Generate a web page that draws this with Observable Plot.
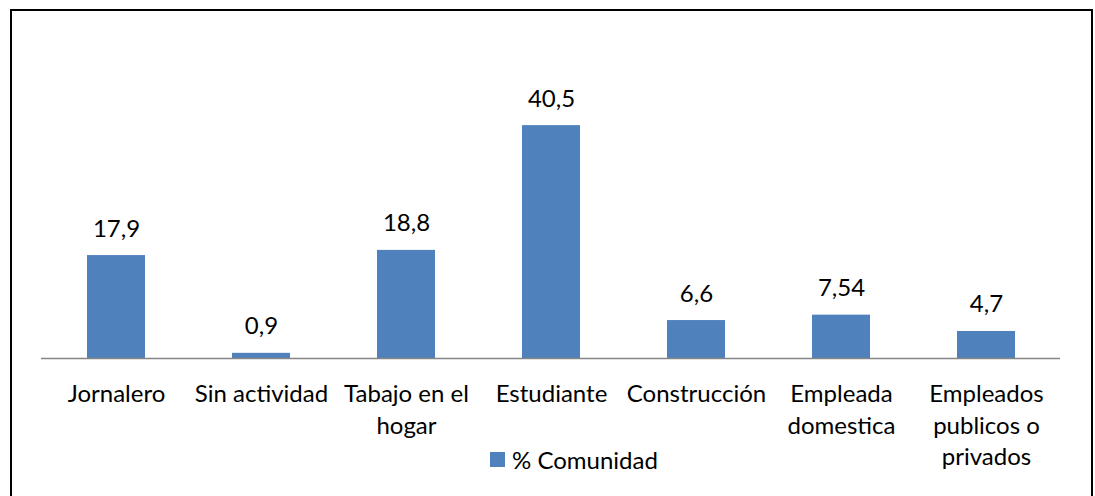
<!DOCTYPE html>
<html>
<head>
<meta charset="utf-8">
<script src="https://cdn.jsdelivr.net/npm/d3@7"></script>
<script src="https://cdn.jsdelivr.net/npm/@observablehq/plot@0.6"></script>
<style>
  html, body { margin: 0; padding: 0; background: #fff; }
  #wrap { position: relative; width: 1095px; height: 496px; overflow: hidden; font-family: Lato, "Open Sans", sans-serif; }
  #frame { position: absolute; left: 10px; top: 9px; width: 1083px; height: 500px; border: 2px solid #000; box-sizing: border-box; }
  #chart { position: absolute; left: 0; top: 0; }
  #legend { position: absolute; left: 490px; top: 445px; display: flex; align-items: center; font-size: 24px; line-height: 29px; color: #000; }
  #legend .sw { width: 15px; height: 15px; background: #4F81BD; margin-right: 7px; }
</style>
</head>
<body>
<div id="wrap">
  <div id="frame"></div>
  <div id="chart"></div>
  <div id="legend"><div class="sw"></div><span id="legend-text"></span></div>
</div>
<script>
const categories = ["Jornalero", "Sin actividad", "Tabajo en el hogar", "Estudiante", "Construcción", "Empleada domestica", "Empleados publicos o privados"];
const tickLabels = ["Jornalero", "Sin actividad", "Tabajo en el\nhogar", "Estudiante", "Construcción", "Empleada\ndomestica", "Empleados\npublicos o\nprivados"];
const values = [17.9, 0.9, 18.8, 40.5, 6.6, 7.54, 4.7];
const seriesName = "% Comunidad";

document.getElementById("legend-text").textContent = seriesName;

const data = categories.map((c, i) => ({cat: c, value: values[i], label: String(values[i]).replace(".", ",")}));
const tickMap = new Map(categories.map((c, i) => [c, tickLabels[i]]));

const plot = Plot.plot({
  width: 1095,
  height: 496,
  marginLeft: 41,
  marginRight: 35,
  marginTop: 70.5,
  marginBottom: 138,
  style: {fontFamily: "Lato, 'Open Sans', sans-serif", background: "transparent", color: "#000"},
  x: {domain: categories, paddingInner: 0.6, paddingOuter: 0.3, align: 0.5},
  y: {domain: [0, 50], axis: null},
  marks: [
    Plot.barY(data, {x: "cat", y: "value", fill: "#4F81BD"}),
    Plot.ruleY([0], {stroke: "#868686", strokeWidth: 1.5}),
    Plot.text(data, {x: "cat", y: "value", text: "label", dy: -19, lineAnchor: "bottom", fontSize: 24, fill: "#000"}),
    Plot.axisX({tickSize: 0, tickPadding: 21, fontSize: 24, lineHeight: 1.32, tickFormat: d => tickMap.get(d), label: null, fill: "#000"})
  ]
});
document.getElementById("chart").appendChild(plot);
</script>
</body>
</html>
